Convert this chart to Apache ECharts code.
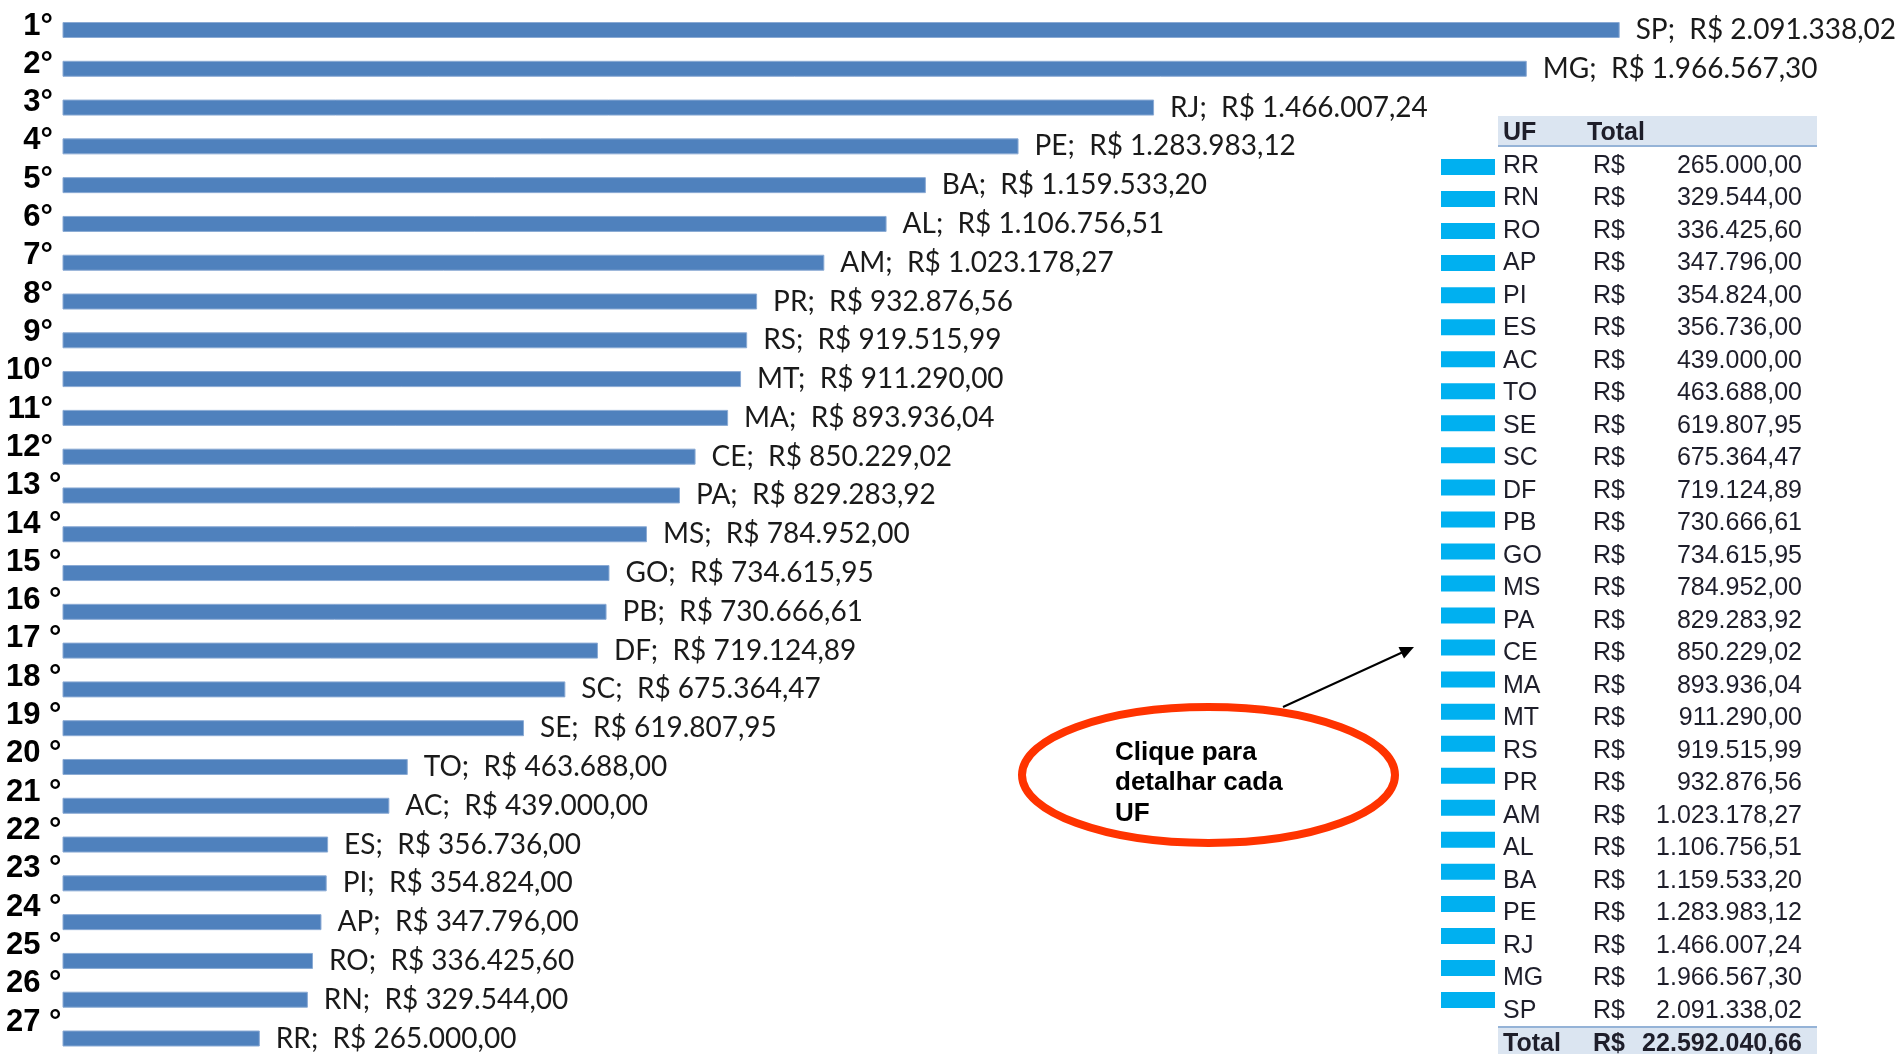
<!DOCTYPE html>
<html>
<head>
<meta charset="utf-8">
<title>Ranking UF</title>
<script src="https://cdn.jsdelivr.net/npm/echarts@6/dist/echarts.min.js"></script>
<style>
  html, body { margin: 0; padding: 0; background: #fff; }
  #container { width: 1895px; height: 1054px; }
</style>
</head>
<body>
<div id="container"></div>
<script>
// ranking, largest first
var rankUF = ['SP', 'MG', 'RJ', 'PE', 'BA', 'AL', 'AM', 'PR', 'RS', 'MT', 'MA', 'CE', 'PA', 'MS',
    'GO', 'PB', 'DF', 'SC', 'SE', 'TO', 'AC', 'ES', 'PI', 'AP', 'RO', 'RN', 'RR'];
var rankValues = [2091338.02, 1966567.30, 1466007.24, 1283983.12, 1159533.20, 1106756.51, 1023178.27,
    932876.56, 919515.99, 911290.00, 893936.04, 850229.02, 829283.92, 784952.00, 734615.95, 730666.61,
    719124.89, 675364.47, 619807.95, 463688.00, 439000.00, 356736.00, 354824.00, 347796.00, 336425.60,
    329544.00, 265000.00];
var rankLabels = ['1°', '2°', '3°', '4°', '5°', '6°', '7°', '8°', '9°', '10°', '11°', '12°', '13 °',
    '14 °', '15 °', '16 °', '17 °', '18 °', '19 °', '20 °', '21 °', '22 °', '23 °', '24 °', '25 °',
    '26 °', '27 °'];

// table on the right is the same data, smallest first
var tableUF = rankUF.slice().reverse();
var tableValues = rankValues.slice().reverse();
var total = tableValues.reduce(function (a, b) { return a + b; }, 0);

function brl(v) {
    var parts = v.toFixed(2).split('.');
    return parts[0].replace(/\B(?=(\d{3})+(?!\d))/g, '.') + ',' + parts[1];
}

var ARIAL = 'Liberation Sans';
var ink = '#1e1e2a';

var chart = echarts.init(document.getElementById('container'));
chart.setOption({
    backgroundColor: '#fff',
    animation: false,
    grid: [
        { left: 62.5, top: 30, width: 1787, height: 1008.5 },
        { left: 6, top: 26, width: 10, height: 996 },
        { left: 1441, top: 167, width: 54, height: 833 },
        { left: 1441, top: 166, width: 54, height: 845 }
    ],
    xAxis: [
        { type: 'value', gridIndex: 0, min: 0, max: 2400000, show: false },
        { type: 'value', gridIndex: 1, show: false },
        { type: 'value', gridIndex: 2, min: 0, max: function (e) { return e.min; }, show: false },
        { type: 'value', gridIndex: 3, show: false }
    ],
    yAxis: [
        { type: 'category', gridIndex: 0, data: rankUF, inverse: true, boundaryGap: false, show: false },
        {
            type: 'category', gridIndex: 1, data: rankLabels, inverse: true, boundaryGap: false,
            axisLine: { show: false }, axisTick: { show: false },
            axisLabel: {
                interval: 0, hideOverlap: false,
                margin: 0, align: 'left', fontFamily: ARIAL, fontWeight: 'bold', fontSize: 31, color: '#000',
                formatter: function (v) {
                    return v.indexOf(' ') > 0 ? '{b|' + v + '}' : '{a|' + v + '}';
                },
                rich: {
                    a: { width: 47, align: 'right', fontFamily: ARIAL, fontWeight: 'bold', fontSize: 31, color: '#000' },
                    b: { width: 56, align: 'left', fontFamily: ARIAL, fontWeight: 'bold', fontSize: 31, color: '#000' }
                }
            }
        },
        { type: 'category', gridIndex: 2, data: tableUF, inverse: true, boundaryGap: false, show: false },
        {
            type: 'category', gridIndex: 3, data: tableUF, inverse: true, boundaryGap: false, position: 'right',
            axisLine: { show: false }, axisTick: { show: false },
            axisLabel: {
                interval: 0, hideOverlap: false,
                margin: 8, align: 'left', fontFamily: ARIAL, fontSize: 25, color: ink,
                formatter: function (v, i) {
                    return '{uf|' + v + '}{rs|R$}{v|' + brl(tableValues[i]) + '}';
                },
                rich: {
                    uf: { width: 90, align: 'left', fontFamily: ARIAL, fontSize: 25, color: ink },
                    rs: { width: 60, align: 'left', fontFamily: ARIAL, fontSize: 25, color: ink },
                    v: { width: 149, align: 'right', fontFamily: ARIAL, fontSize: 25, color: ink }
                }
            }
        }
    ],
    series: [
        {
            type: 'bar',
            xAxisIndex: 0, yAxisIndex: 0,
            data: rankValues,
            barWidth: 16,
            itemStyle: { color: '#4f81bd', borderColor: '#8aaad4', borderWidth: 1 },
            label: {
                show: true, position: 'right', distance: 16,
                fontFamily: 'Lato', fontSize: 28, color: '#1a1a1a',
                formatter: function (p) { return p.name + ';  R$ ' + brl(p.value); }
            }
        },
        {
            type: 'bar',
            xAxisIndex: 2, yAxisIndex: 2,
            data: tableValues,
            barWidth: 16,
            clip: true,
            itemStyle: { color: '#00b0f0' }
        }
    ],
    graphic: [
        // table header
        { type: 'rect', shape: { x: 1498, y: 116, width: 319, height: 30 }, style: { fill: '#dbe5f1' } },
        { type: 'line', shape: { x1: 1498, y1: 146, x2: 1817, y2: 146 }, style: { stroke: '#95b3d7', lineWidth: 2 } },
        { type: 'text', x: 1503, y: 133, style: { text: 'UF', font: 'bold 25px "Liberation Sans"', fill: ink, verticalAlign: 'middle' } },
        { type: 'text', x: 1587, y: 133, style: { text: 'Total', font: 'bold 25px "Liberation Sans"', fill: ink, verticalAlign: 'middle' } },
        // table footer
        { type: 'rect', shape: { x: 1498, y: 1026, width: 319, height: 40 }, style: { fill: '#dbe5f1' } },
        { type: 'line', shape: { x1: 1498, y1: 1027, x2: 1817, y2: 1027 }, style: { stroke: '#95b3d7', lineWidth: 2 } },
        { type: 'text', x: 1503, y: 1044, style: { text: 'Total', font: 'bold 25px "Liberation Sans"', fill: ink, verticalAlign: 'middle' } },
        { type: 'text', x: 1593, y: 1044, style: { text: 'R$', font: 'bold 25px "Liberation Sans"', fill: ink, verticalAlign: 'middle' } },
        { type: 'text', x: 1802, y: 1044, style: { text: brl(total), font: 'bold 25px "Liberation Sans"', fill: ink, align: 'right', verticalAlign: 'middle' } },
        // callout
        { type: 'ellipse', shape: { cx: 1208.5, cy: 775, rx: 186.5, ry: 68 }, style: { fill: 'none', stroke: '#ff3300', lineWidth: 8 } },
        {
            type: 'text', x: 1115, y: 783,
            style: {
                text: 'Clique para\ndetalhar cada\nUF', font: 'bold 26px "Liberation Sans"',
                lineHeight: 30.5, fill: '#000', verticalAlign: 'middle'
            }
        },
        { type: 'line', shape: { x1: 1283, y1: 707, x2: 1402, y2: 652.5 }, style: { stroke: '#000', lineWidth: 2 } },
        { type: 'polygon', shape: { points: [[1414, 647], [1404, 658.5], [1398.5, 647]] }, style: { fill: '#000' } }
    ]
});
</script>
</body>
</html>
